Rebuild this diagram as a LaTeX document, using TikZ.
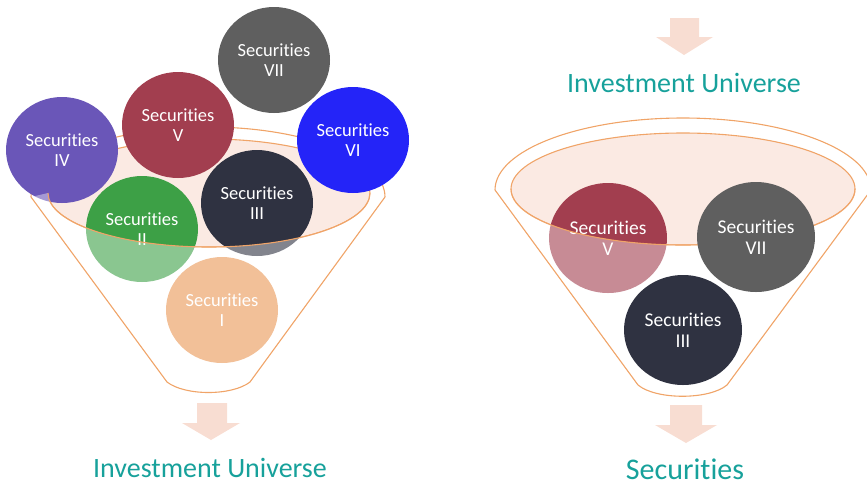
\documentclass[tikz,border=0pt]{standalone}
\usepackage{fontspec}
\setmainfont{Carlito}[Ligatures=NoCommon]
\usetikzlibrary{shapes.geometric}

\definecolor{rimline}{HTML}{F0A468}
\definecolor{bowl}{HTML}{FBEAE3}
\definecolor{downarrow}{HTML}{F8DDD2}
\definecolor{caption}{HTML}{17A19B}
\definecolor{secI}{HTML}{F2C098}
\definecolor{secII}{HTML}{3DA046}
\definecolor{secIII}{HTML}{2F3241}
\definecolor{secIV}{HTML}{6A56B8}
\definecolor{secV}{HTML}{A23E4F}
\definecolor{secVI}{HTML}{2424F8}
\definecolor{secVII}{HTML}{5F5F5F}

\begin{document}
\begin{tikzpicture}[x=1pt,y=-1pt,
    rim/.style={draw=rimline,line width=1.1pt},
    sec/.style={ellipse,inner sep=0pt,text=white,align=center,
      minimum width=112pt,minimum height=106pt,
      font=\fontsize{18.5}{20}\selectfont},
    bigsec/.style={sec,minimum width=118pt,minimum height=110pt,
      font=\fontsize{19.5}{21}\selectfont},
    caption/.style={text=caption,anchor=base,inner sep=0pt}]
      \useasboundingbox (0,0) rectangle (867,483);

      % left funnel, back
      \draw[rim] (31,197) arc[start angle=180,end angle=360,x radius=177,y radius=70];
      \draw[rim,fill=bowl] (209,193) ellipse[x radius=161,y radius=54];

      \node[sec,fill=secVII] (s7) at (274,60) {Securities\\VII};
      \node[sec,fill=secV] (s5) at (178,125) {Securities\\V};
      \node[sec,fill=secIV] (s4) at (62,150) {Securities\\IV};
      \node[sec,fill=secVI] (s6) at (353,140) {Securities\\VI};
      \node[sec,fill=secIII] (s3) at (257,203) {Securities\\III};
      \node[sec,fill=secII] (s2) at (142,229) {Securities\\II};

      % left funnel, front
      \fill[white,opacity=0.4] (31,197) -- (167,382) .. controls (185,396) and (232,396) .. (250,382)
        -- (385,197) -- (370,193) arc[start angle=0,end angle=180,x radius=161,y radius=54] -- cycle;
      \draw[rim] (370,193) arc[start angle=0,end angle=180,x radius=161,y radius=54];
      \draw[rim] (31,197) -- (167,382) .. controls (185,396) and (232,396) .. (250,382) -- (385,197);

      \node[sec,fill=secI] (s1) at (222,310) {Securities\\I};

      \fill[downarrow] (197,403) -- (227,403) -- (227,423) -- (240,423) -- (211,440)
        -- (182,423) -- (197,423) -- cycle;
      \node[caption,font=\fontsize{28}{30}\selectfont] (u1) at (210,477) {Investment Universe};

      % right funnel
      \fill[downarrow] (670,18) -- (699,18) -- (699,37) -- (713,37) -- (684,55)
        -- (656,37) -- (670,37) -- cycle;
      \node[caption,font=\fontsize{28}{30}\selectfont] (u2) at (684,92) {Investment Universe};

      \draw[rim] (495,190) arc[start angle=180,end angle=360,x radius=188,y radius=72];
      \draw[rim,fill=bowl] (683,189) ellipse[x radius=172,y radius=56];

      \node[bigsec,fill=secV] (r5) at (608,238) {Securities\\V};

      \fill[white,opacity=0.4] (495,190) -- (638,385) .. controls (656,400) and (709,400) .. (727,385)
        -- (871,190) -- (855,189) arc[start angle=0,end angle=180,x radius=172,y radius=56] -- cycle;
      \draw[rim] (855,189) arc[start angle=0,end angle=180,x radius=172,y radius=56];
      \draw[rim] (495,190) -- (638,385) .. controls (656,400) and (709,400) .. (727,385) -- (871,190);

      \node[bigsec,fill=secVII] (r7) at (756,237) {Securities\\VII};
      \node[bigsec,fill=secIII] (r3) at (683,330) {Securities\\III};

      \fill[downarrow] (670,405) -- (702,405) -- (702,425) -- (717,425) -- (686,443)
        -- (655,425) -- (670,425) -- cycle;
      \node[caption,font=\fontsize{30}{32}\selectfont] (out) at (685,479) {Securities};
    \end{tikzpicture}
\end{document}
